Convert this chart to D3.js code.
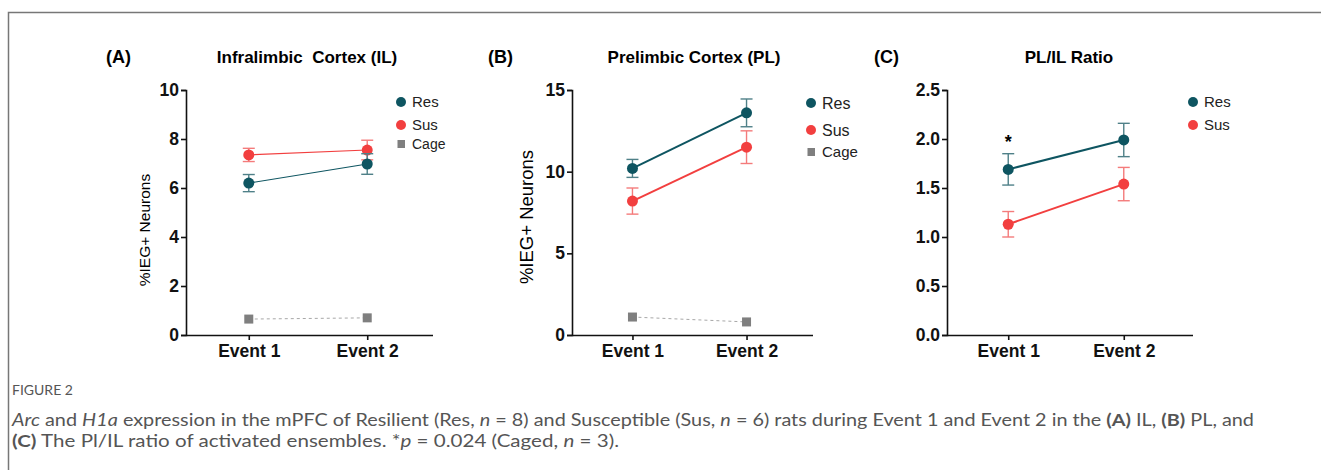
<!DOCTYPE html>
<html>
<head>
<meta charset="utf-8">
<script src="https://cdn.jsdelivr.net/npm/d3@7"></script>
<style>
  body { margin: 0; background: #fff; }
  svg { display: block; font-family: Arial, "Liberation Sans", sans-serif; }
</style>
</head>
<body>
<svg width="1322" height="470"></svg>
<script>
var events = ["Event 1", "Event 2"];

// (A) infralimbic
var ilRes = [6.2, 6.98], ilResSem = [0.35, 0.42];
var ilSus = [7.35, 7.55], ilSusSem = [0.27, 0.4];
var ilCage = [0.65, 0.7];
var ilTicks = [0, 2, 4, 6, 8, 10];

// (B) prelimbic
var plRes = [10.2, 13.6], plResSem = [0.55, 0.85];
var plSus = [8.2, 11.5], plSusSem = [0.8, 1.0];
var plCage = [1.1, 0.8];
var plTicks = [0, 5, 10, 15];

// (C) ratio
var rRes = [1.69, 1.99], rResSem = [0.16, 0.17];
var rSus = [1.13, 1.54], rSusSem = [0.13, 0.17];
var rTicks = [0, 0.5, 1.0, 1.5, 2.0, 2.5];

var resColor = "#0e5561",
  susColor = "#f23f3f",
  cageColor = "#7f7f7f";

var svg = d3.select("svg");

// outer frame
svg.append("path")
  .attr("d", "M8.5,480 V12.5 H1321")
  .attr("fill", "none")
  .attr("stroke", "#777")
  .attr("stroke-width", 1.5);

var panels = [
  { letter: "(A)", letterX: 106, title: "Infralimbic\u00a0 Cortex (IL)", titleX: 307,
    left: 186, right: 433, xr: 430, max: 10, ticks: ilTicks, fmt: d3.format("d"),
    res: ilRes, resSem: ilResSem, sus: ilSus, susSem: ilSusSem, cage: ilCage,
    lw: 1.2, ylab: { x: 145, y: 230, size: 15.5 }, legX: 401, legSize: 15 },
  { letter: "(B)", letterX: 488, title: "Prelimbic Cortex (PL)", titleX: 694,
    left: 572, right: 813, xr: 807, max: 15, ticks: plTicks, fmt: d3.format("d"),
    res: plRes, resSem: plResSem, sus: plSus, susSem: plSusSem, cage: plCage,
    lw: 2, ylab: { x: 527, y: 217, size: 18.5 }, legX: 811, legSize: 16 },
  { letter: "(C)", letterX: 874, title: "PL/IL Ratio", titleX: 1069,
    left: 947, right: 1193, xr: 1185, max: 2.5, ticks: rTicks, fmt: d3.format(".1f"),
    res: rRes, resSem: rResSem, sus: rSus, susSem: rSusSem, cage: null,
    lw: 2, ylab: null, legX: 1193, legSize: 15, star: 0 }
];

panels.forEach(function(p) {
  var g = svg.append("g");
  var y = d3.scaleLinear().domain([0, p.max]).range([335, 90]);
  var x = d3.scalePoint().domain(events).range([p.left, p.xr]).padding(0.53);

  g.append("text")
    .attr("x", p.letterX).attr("y", 63)
    .attr("font-size", 18).attr("font-weight", "bold")
    .text(p.letter);
  g.append("text")
    .attr("x", p.titleX).attr("y", 63)
    .attr("text-anchor", "middle")
    .attr("font-size", 17).attr("font-weight", "bold")
    .text(p.title);

  // axes
  var yAxis = g.append("g")
    .attr("transform", "translate(" + p.left + ",0)")
    .call(d3.axisLeft(y).tickValues(p.ticks).tickFormat(p.fmt).tickSizeOuter(0).tickSize(5).tickPadding(2));
  var xAxis = g.append("g")
    .attr("transform", "translate(0,335)")
    .call(d3.axisBottom(x).tickSizeOuter(0).tickSize(5).tickPadding(2));
  xAxis.select(".domain").attr("d", "M" + p.left + ",0.5H" + p.right);
  [yAxis, xAxis].forEach(function(a) {
    a.selectAll("path, line").attr("stroke", "#111").attr("stroke-width", 1.6);
    a.selectAll("text").attr("fill", "#111").attr("font-size", 17.5)
      .attr("font-weight", "bold").attr("font-family", "Arial, 'Liberation Sans', sans-serif");
  });
  xAxis.selectAll("text").attr("dy", "0.85em");

  if (p.ylab) {
    g.append("text")
      .attr("transform", "translate(" + p.ylab.x + "," + p.ylab.y + ") rotate(-90)")
      .attr("text-anchor", "middle")
      .attr("dy", "0.35em")
      .attr("font-size", p.ylab.size)
      .text("%IEG+ Neurons");
  }

  // cage line
  if (p.cage) {
    g.append("path")
      .datum(p.cage)
      .attr("fill", "none")
      .attr("stroke", "#a8a8a8")
      .attr("stroke-width", 1)
      .attr("stroke-dasharray", "3,3")
      .attr("d", d3.line().x(function(d, i) { return x(events[i]); }).y(function(d) { return y(d); }));
    g.selectAll(".cage")
      .data(p.cage)
      .enter().append("rect")
      .attr("x", function(d, i) { return x(events[i]) - 4.5; })
      .attr("y", function(d) { return y(d) - 4.5; })
      .attr("width", 9).attr("height", 9)
      .attr("fill", cageColor);
  }

  var series = [
    { vals: p.sus, sem: p.susSem, color: susColor, err: "#f47b7b" },
    { vals: p.res, sem: p.resSem, color: resColor, err: "#4f8088" }
  ];
  series.forEach(function(s) {
    var pts = s.vals.map(function(v, i) { return { e: events[i], v: v, s: s.sem[i] }; });
    g.append("path")
      .datum(pts)
      .attr("fill", "none")
      .attr("stroke", s.color)
      .attr("stroke-width", p.lw)
      .attr("d", d3.line().x(function(d) { return x(d.e); }).y(function(d) { return y(d.v); }));
    var eb = g.selectAll(null).data(pts).enter().append("g")
      .attr("stroke", s.err).attr("stroke-width", 1.4);
    eb.append("line")
      .attr("x1", function(d) { return x(d.e); }).attr("x2", function(d) { return x(d.e); })
      .attr("y1", function(d) { return y(d.v - d.s); }).attr("y2", function(d) { return y(d.v + d.s); });
    eb.append("line")
      .attr("x1", function(d) { return x(d.e) - 6; }).attr("x2", function(d) { return x(d.e) + 6; })
      .attr("y1", function(d) { return y(d.v + d.s); }).attr("y2", function(d) { return y(d.v + d.s); });
    eb.append("line")
      .attr("x1", function(d) { return x(d.e) - 6; }).attr("x2", function(d) { return x(d.e) + 6; })
      .attr("y1", function(d) { return y(d.v - d.s); }).attr("y2", function(d) { return y(d.v - d.s); });
    g.selectAll(null).data(pts).enter().append("circle")
      .attr("cx", function(d) { return x(d.e); })
      .attr("cy", function(d) { return y(d.v); })
      .attr("r", 5.5)
      .attr("fill", s.color);
  });

  if (p.star !== undefined) {
    g.append("text")
      .attr("x", x(events[p.star])).attr("y", 148)
      .attr("text-anchor", "middle")
      .attr("font-size", 18).attr("font-weight", "bold")
      .text("*");
  }

  // legend
  var leg = [
    { name: "Res", color: resColor, shape: "c", dy: 102 },
    { name: "Sus", color: susColor, shape: "c", dy: 125 }
  ];
  if (p.cage) leg.push({ name: "Cage", color: cageColor, shape: "s", dy: 144 });
  if (p === panels[1]) { leg[0].dy = 103; leg[1].dy = 130; leg[2].dy = 152; }
  leg.forEach(function(l) {
    if (l.shape === "c") {
      g.append("circle").attr("cx", p.legX).attr("cy", l.dy).attr("r", 5).attr("fill", l.color);
    } else {
      g.append("rect").attr("x", p.legX - 3.5).attr("y", l.dy - 4).attr("width", 7.5).attr("height", 8).attr("fill", l.color);
    }
    g.append("text")
      .attr("x", p.legX + 11).attr("y", l.dy)
      .attr("dy", "0.35em")
      .attr("font-size", l.shape === "s" ? p.legSize - 1 : p.legSize)
      .attr("fill", "#222")
      .text(l.name);
  });
});

// caption
var cap = svg.append("g").attr("font-family", "Lato, 'Open Sans', sans-serif").attr("fill", "#555");
cap.append("text")
  .attr("x", 12).attr("y", 395)
  .attr("font-size", 14)
  .attr("fill", "#555")
  .text("FIGURE 2");

var line1 = cap.append("text").attr("x", 12).attr("y", 426).attr("font-size", 17.5)
  .attr("textLength", 1242).attr("lengthAdjust", "spacingAndGlyphs");
[["Arc", "i"], [" and ", ""], ["H1a", "i"], [" expression in the mPFC of Resilient (Res, ", ""], ["n", "i"],
 [" = 8) and Susceptible (Sus, ", ""], ["n", "i"], [" = 6) rats during Event 1 and Event 2 in the ", ""],
 ["(A)", "b"], [" IL, ", ""], ["(B)", "b"], [" PL, and", ""]].forEach(function(t) {
  line1.append("tspan").text(t[0])
    .attr("font-style", t[1] === "i" ? "italic" : null)
    .attr("font-weight", t[1] === "b" ? "bold" : null);
});
var line2 = cap.append("text").attr("x", 12).attr("y", 447).attr("font-size", 17.5)
  .attr("textLength", 607).attr("lengthAdjust", "spacingAndGlyphs");
[["(C)", "b"], [" The Pl/IL ratio of activated ensembles. *", ""], ["p", "i"], [" = 0.024 (Caged, ", ""],
 ["n", "i"], [" = 3).", ""]].forEach(function(t) {
  line2.append("tspan").text(t[0])
    .attr("font-style", t[1] === "i" ? "italic" : null)
    .attr("font-weight", t[1] === "b" ? "bold" : null);
});
</script>
</body>
</html>
